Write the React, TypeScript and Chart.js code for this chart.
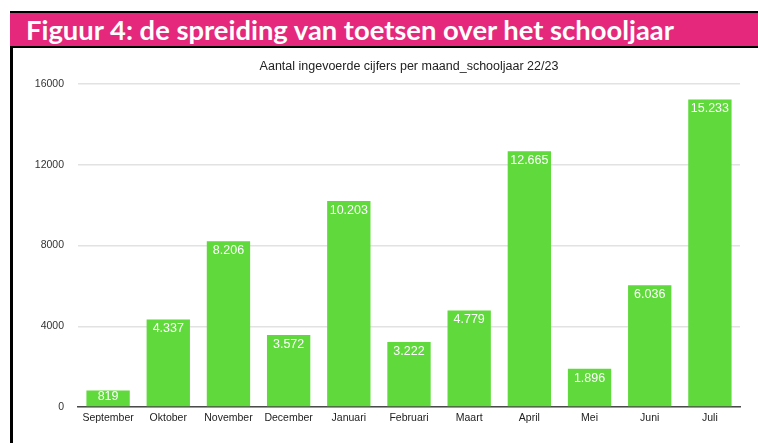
import React, { useEffect, useRef, useMemo } from "react";
import { Chart, registerables } from "chart.js";

Chart.register(...registerables);

const HEADER = "Figuur 4: de spreiding van toetsen over het schooljaar";
const CHART_TITLE = "Aantal ingevoerde cijfers per maand_schooljaar 22/23";
const MONTHS = ["September", "Oktober", "November", "December", "Januari", "Februari", "Maart", "April", "Mei", "Juni", "Juli"];
const COUNTS = [819, 4337, 8206, 3572, 10203, 3222, 4779, 12665, 1896, 6036, 15233];
const Y_MAX = 16000;
const Y_STEP = 4000;

const BAR_COLOR = "#5FD93B";
const PINK = "#E6287C";
const FONT = "'Liberation Sans', Arial, Helvetica, sans-serif";

const fmt = (v: number) => String(v).replace(/\B(?=(\d{3})+(?!\d))/g, ".");

const valueLabels = {
  id: "valueLabels",
  afterDatasetsDraw(chart: any) {
    const ctx = chart.ctx;
    const meta = chart.getDatasetMeta(0);
    const data = chart.data.datasets[0].data as number[];
    ctx.save();
    ctx.fillStyle = "#ffffff";
    ctx.font = `12.5px ${FONT}`;
    ctx.textAlign = "center";
    ctx.textBaseline = "middle";
    meta.data.forEach((el: any, i: number) => {
      const h = el.base - el.y;
      const off = Math.min(9.5, h * 0.4);
      ctx.fillText(fmt(data[i]), el.x, el.y + off);
    });
    ctx.restore();
  },
};

function fitHeaderSize(): number {
  try {
    const c = document.createElement("canvas");
    const ctx = c.getContext("2d")!;
    ctx.font = "700 100px Lato";
    const w = ctx.measureText(HEADER).width;
    return (100 * 650) / w;
  } catch {
    return 26;
  }
}

export default function App() {
  const ref = useRef<HTMLCanvasElement | null>(null);
  const headerSize = useMemo(() => fitHeaderSize(), []);

  useEffect(() => {
    if (!ref.current) return;
    const chart = new Chart(ref.current, {
      type: "bar",
      data: {
        labels: MONTHS,
        datasets: [
          {
            data: COUNTS,
            backgroundColor: BAR_COLOR,
            borderWidth: 0,
            barPercentage: 0.72,
            categoryPercentage: 1,
          },
        ],
      },
      options: {
        animation: false,
        responsive: false,
        maintainAspectRatio: false,
        devicePixelRatio: 1,
        layout: { padding: { left: 0, right: 18, top: 84, bottom: 0 } },
        plugins: {
          legend: { display: false },
          title: { display: false },
          tooltip: { enabled: false },
        },
        scales: {
          x: {
            grid: { display: false, drawTicks: false },
            border: { display: true, color: "#4a4a4a", width: 1.5 },
            ticks: { color: "#222", font: { family: FONT, size: 10.5 }, padding: 5, maxRotation: 0, autoSkip: false },
            afterFit: (s: any) => {
              s.height = 36;
            },
          },
          y: {
            min: 0,
            max: Y_MAX,
            grid: { color: "#e2e2e2", lineWidth: 1.5, drawTicks: false },
            border: { display: false },
            ticks: {
              stepSize: Y_STEP,
              color: "#333",
              font: { family: FONT, size: 10.5 },
              padding: 14,
              callback: (v: any) => String(v),
            },
            afterFit: (s: any) => {
              s.width = 78;
            },
          },
        },
      },
      plugins: [valueLabels],
    });
    return () => chart.destroy();
  }, []);

  return (
    <div style={{ position: "absolute", left: 0, top: 0, width: 758, height: 443, background: "#fff", overflow: "hidden" }}>
      <canvas ref={ref} width={758} height={443} style={{ position: "absolute", left: 0, top: 0, width: 758, height: 443 }} />
      <div
        style={{
          position: "absolute",
          left: 10,
          top: 11,
          width: 2.5,
          height: 432,
          background: "#000",
        }}
      />
      <div
        style={{
          position: "absolute",
          left: 10,
          top: 11,
          right: 0,
          height: 33,
          background: PINK,
          borderTop: "2px solid #000",
          borderBottom: "2px solid #000",
          display: "flex",
          alignItems: "center",
          boxSizing: "content-box",
        }}
      >
        <span
          style={{
            marginLeft: 16,
            color: "#fff",
            fontFamily: "Lato, 'Open Sans', sans-serif",
            fontWeight: 700,
            fontSize: headerSize,
            lineHeight: 1,
            whiteSpace: "nowrap",
          }}
        >
          {HEADER}
        </span>
      </div>
      <div
        style={{
          position: "absolute",
          left: 78,
          width: 662,
          top: 57,
          textAlign: "center",
          fontFamily: FONT,
          fontSize: 12.5,
          lineHeight: "18px",
          color: "#222",
        }}
      >
        {CHART_TITLE}
      </div>
    </div>
  );
}
